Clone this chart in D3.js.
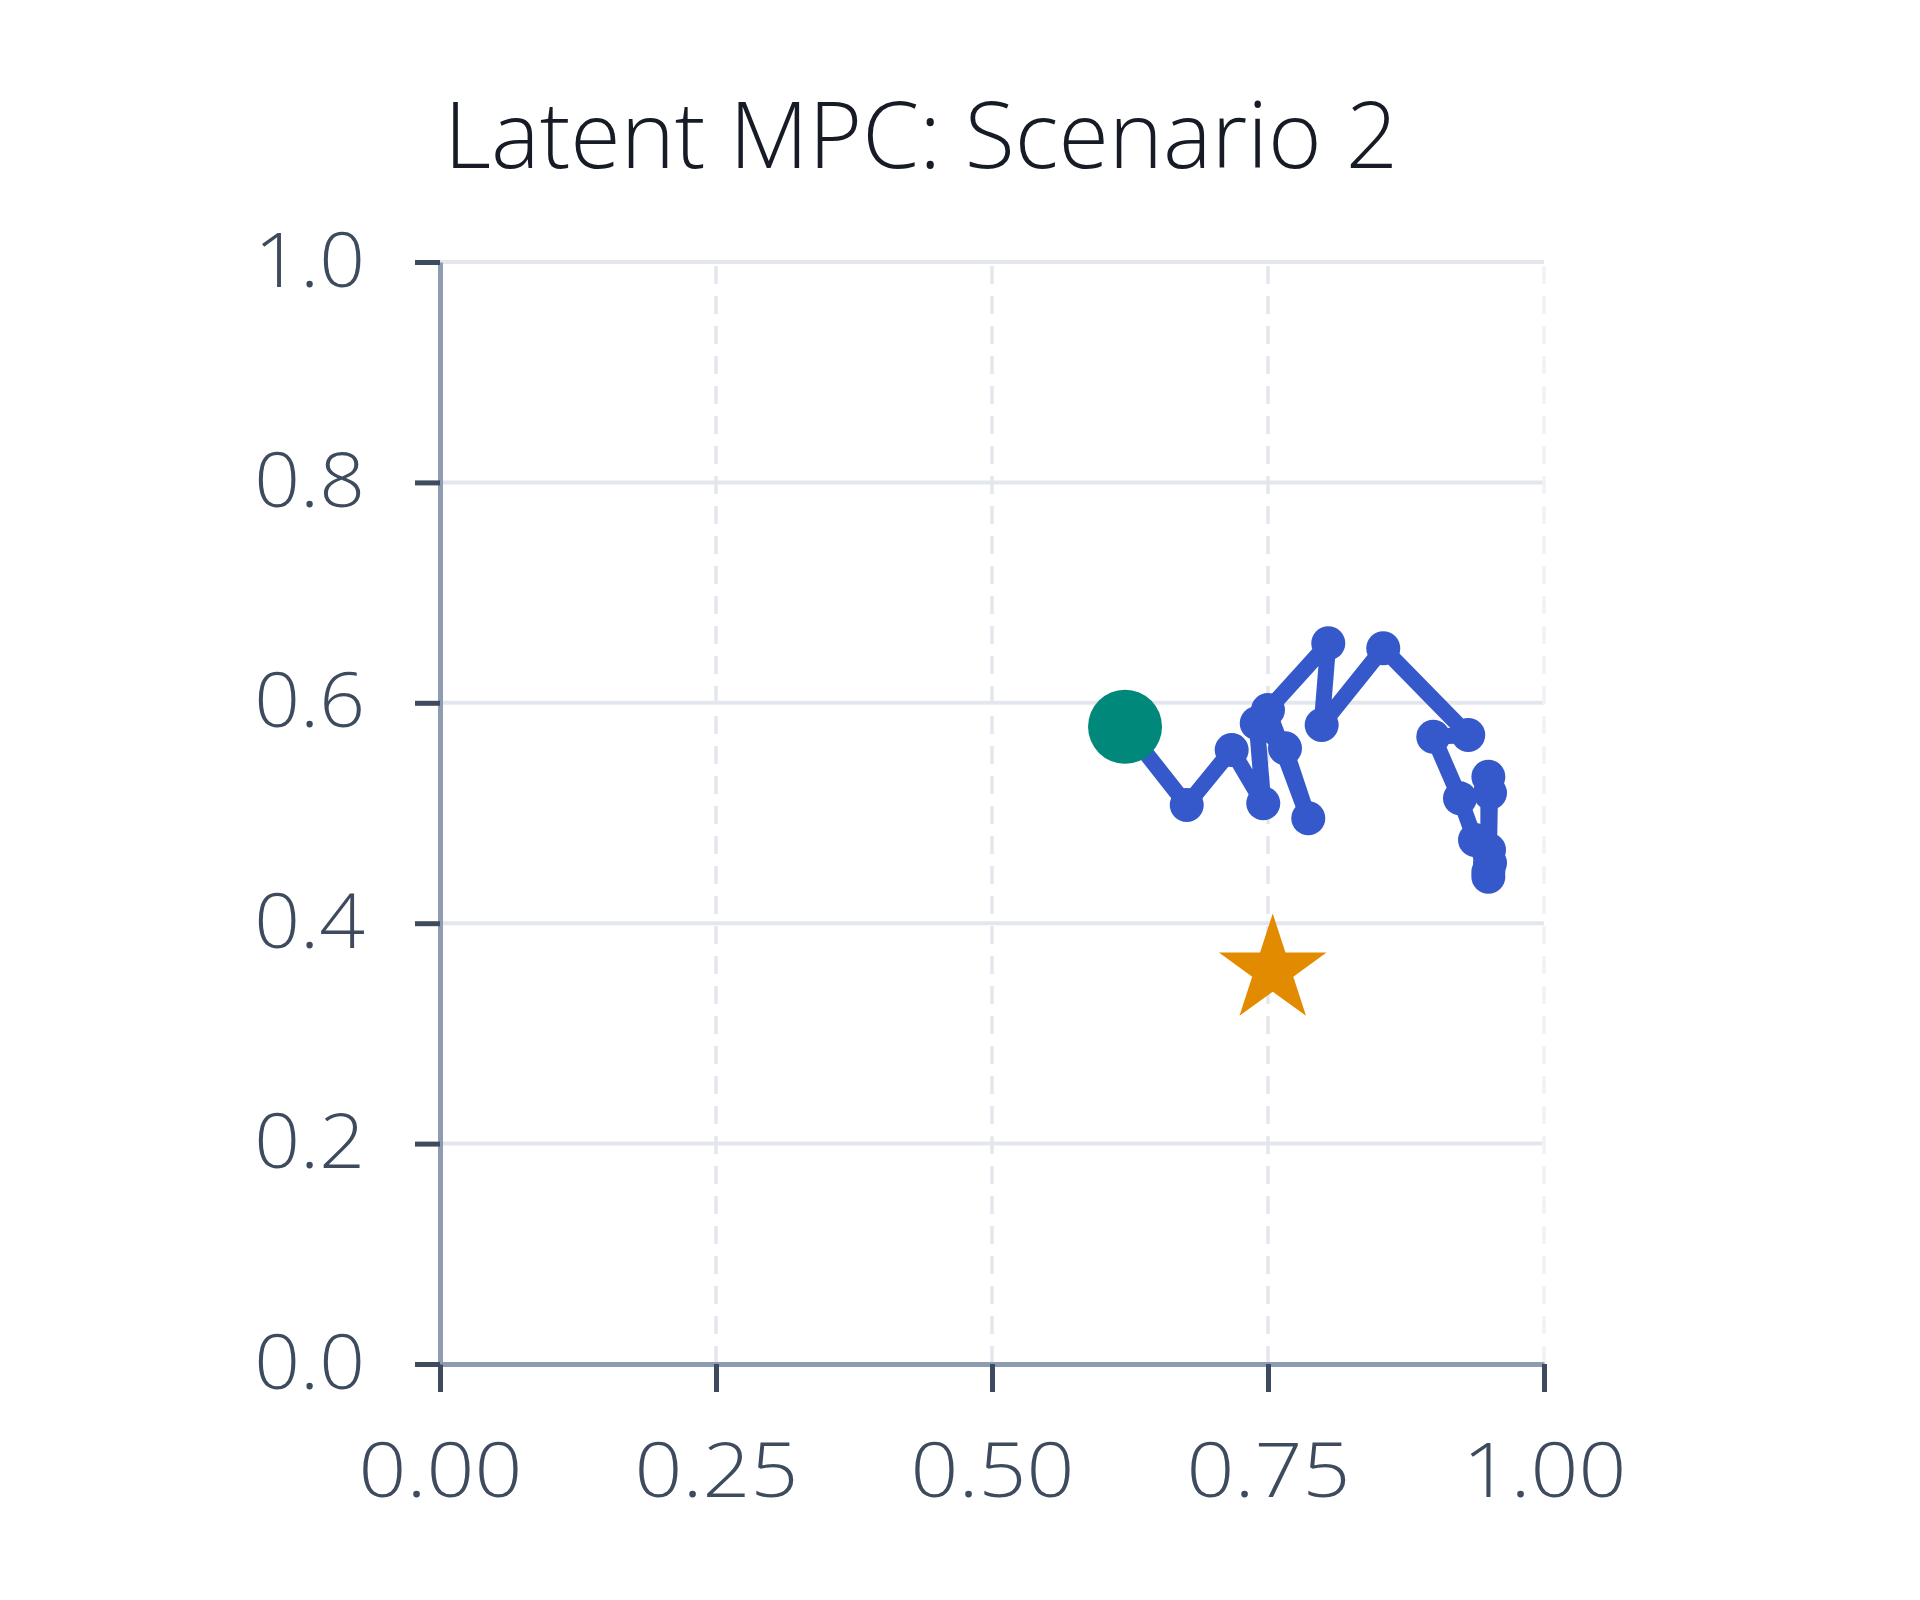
<!DOCTYPE html>
<html>
<head>
<meta charset="utf-8">
<script src="https://cdn.jsdelivr.net/npm/d3@7"></script>
<style>
  body { margin: 0; background: #fff; }
  svg { display: block; }
</style>
</head>
<body>
<div id="chart"></div>
<script>
const width = 1920;
const height = 1600;

// Data
const title = "Latent MPC: Scenario 2";
const xTicks = [0, 0.25, 0.5, 0.75, 1.0];
const yTicks = [0, 0.2, 0.4, 0.6, 0.8, 1.0];
const startPoint = [0.6205, 0.5783];
const goalPoint = [0.7543, 0.3575];
const trajX = [0.6205, 0.6764, 0.7171, 0.7457, 0.7398, 0.7654, 0.7865, 0.7500, 0.8046, 0.7986,
               0.8544, 0.9314, 0.8997, 0.9239, 0.9375, 0.9496, 0.9496, 0.9511, 0.9502, 0.9511, 0.9496];
const trajY = [0.5783, 0.5073, 0.5572, 0.5088, 0.5814, 0.5587, 0.4952, 0.5935, 0.6540, 0.5799,
               0.6495, 0.5708, 0.5692, 0.5133, 0.4755, 0.4422, 0.5329, 0.5181, 0.4664, 0.4546, 0.4465];

const margin = { left: 440, right: 1920 - 1544, top: 262, bottom: 1600 - 1364 };

const x = d3.scaleLinear().domain([0, 1]).range([margin.left, width - margin.right]);
const y = d3.scaleLinear().domain([0, 1]).range([height - margin.bottom, margin.top]);

const svg = d3.select("#chart").append("svg")
    .attr("width", width)
    .attr("height", height);

// --- Grid ---
const grid = svg.append("g");
grid.selectAll("line.h")
    .data(yTicks.filter(d => d > 0))
    .join("line")
    .attr("class", "h")
    .attr("x1", x(0)).attr("x2", x(1))
    .attr("y1", d => y(d)).attr("y2", d => y(d))
    .attr("stroke", "#e3e7ed")
    .attr("stroke-width", 4);

grid.selectAll("line.v")
    .data(xTicks.filter(d => d > 0))
    .join("line")
    .attr("class", "v")
    .attr("x1", d => x(d)).attr("x2", d => x(d))
    .attr("y1", y(0)).attr("y2", y(1))
    .attr("stroke", d => d === 1 ? "#f0f2f5" : "#e3e7ed")
    .attr("stroke-width", 3.5)
    .attr("stroke-dasharray", "18 12");

// --- Axes ---
const font = "'Open Sans', 'Noto Sans', sans-serif";

const xAxis = svg.append("g")
    .attr("transform", `translate(0,${y(0)})`)
    .call(d3.axisBottom(x).tickValues(xTicks).tickFormat(d3.format(".2f"))
        .tickSize(28).tickSizeOuter(0).tickPadding(52));

const yAxis = svg.append("g")
    .attr("transform", `translate(${x(0)},0)`)
    .call(d3.axisLeft(y).tickValues(yTicks).tickFormat(d3.format(".1f"))
        .tickSize(25).tickSizeOuter(0).tickPadding(50));

// reference digits are a bit wider than Open Sans
[[xAxis, 1.12], [yAxis, 1.07]].forEach(([ax, stretch]) => {
    ax.select(".domain").attr("stroke", "#8e9cb1").attr("stroke-width", 5);
    ax.selectAll(".tick line").attr("stroke", "#3e4b5e").attr("stroke-width", 5);
    ax.selectAll(".tick text")
        .attr("fill", "#3e4b5e")
        .style("font-family", font)
        .style("font-weight", 350)
        .style("font-size", "75px")
        .each(function() {
            const t = d3.select(this);
            const x0 = +t.attr("x") || 0;
            t.attr("x", 0).attr("transform", `translate(${x0},0) scale(${stretch},1)`);
        });
});

// --- Trajectory ---
const traj = trajX.map((d, i) => [d, trajY[i]]);

svg.append("path")
    .datum(traj)
    .attr("fill", "none")
    .attr("stroke", "#3559cb")
    .attr("stroke-width", 16)
    .attr("stroke-linejoin", "round")
    .attr("d", d3.line().x(d => x(d[0])).y(d => y(d[1])));

svg.append("g")
    .selectAll("circle")
    .data(traj.slice(1))
    .join("circle")
    .attr("cx", d => x(d[0]))
    .attr("cy", d => y(d[1]))
    .attr("r", 17)
    .attr("fill", "#3559cb");

// start
svg.append("circle")
    .attr("cx", x(startPoint[0]))
    .attr("cy", y(startPoint[1]))
    .attr("r", 37)
    .attr("fill", "#00897b");

// goal
svg.append("path")
    .attr("transform", `translate(${x(goalPoint[0])},${y(goalPoint[1])})`)
    .attr("d", d3.symbol(d3.symbolStar, 3596)())
    .attr("fill", "#e38b00");

// --- Title ---
svg.append("text")
    .attr("x", 921)
    .attr("y", 168)
    .attr("text-anchor", "middle")
    .attr("fill", "#161b25")
    .attr("textLength", 954)
    .attr("lengthAdjust", "spacingAndGlyphs")
    .style("font-family", font)
    .style("font-weight", 350)
    .style("font-size", "92px")
    .text(title);
</script>
</body>
</html>
